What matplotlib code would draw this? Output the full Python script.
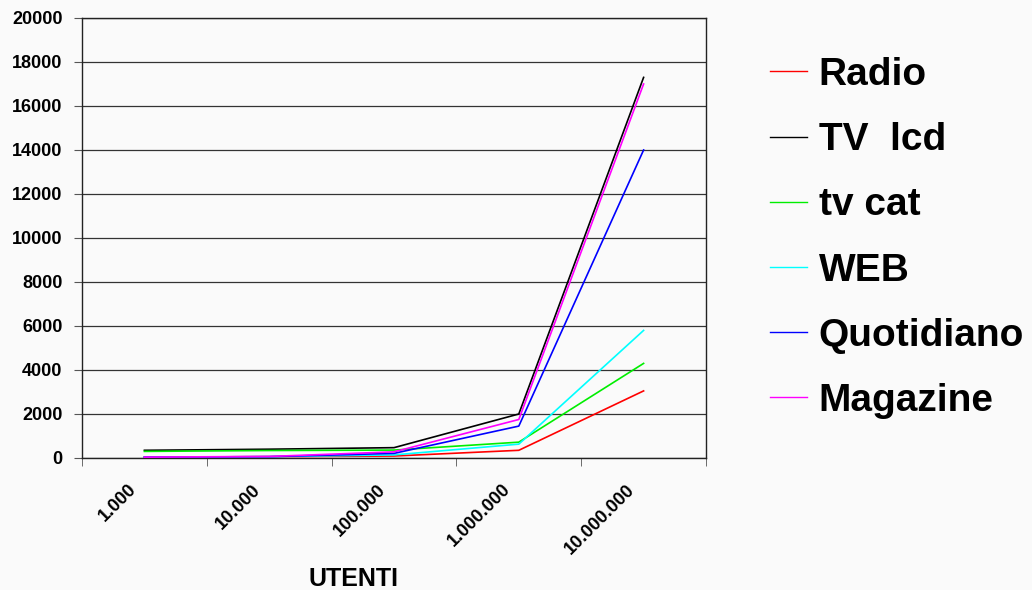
import matplotlib
matplotlib.use("Agg")
import matplotlib.pyplot as plt
from matplotlib.transforms import ScaledTranslation

plt.rcParams["font.family"] = ["Liberation Sans", "DejaVu Sans"]

categories = ["1.000", "10.000", "100.000", "1.000.000", "10.000.000"]
series_names = ["Radio", "TV  lcd", "tv cat", "WEB", "Quotidiano", "Magazine"]
radio = [40, 60, 90, 350, 3050]
tv_lcd = [350, 400, 470, 2000, 17300]
tv_cat = [300, 340, 360, 720, 4300]
web = [40, 60, 140, 630, 5800]
quotidiano = [40, 60, 210, 1450, 14000]
magazine = [40, 70, 280, 1750, 17000]
y_ticks = list(range(0, 20001, 2000))

colors = ["#ff0000", "#000000", "#00ee00", "#00ffff", "#0000ff", "#ff00ff"]
bg = "#fafafa"

fig = plt.figure(figsize=(10.32, 5.90), dpi=100, facecolor=bg)
ax = fig.add_axes([82 / 1032, 132 / 590, 624 / 1032, 440 / 590], facecolor=bg)

xs = list(range(len(categories)))
for name, vals, c in zip(series_names,
                         [radio, tv_lcd, tv_cat, web, quotidiano, magazine],
                         colors):
    ax.plot(xs, vals, color=c, lw=1.2, label=name, zorder=3)

ax.set_xlim(-0.5, len(categories) - 0.5)
ax.set_ylim(0, 20000)
ax.set_yticks(y_ticks)
ax.set_yticklabels([str(v) for v in y_ticks], fontsize=13, fontweight="bold")
ax.yaxis.grid(True, color="#333333", lw=0.9)
ax.set_axisbelow(True)

# category boundaries carry the tick marks, centres carry the labels
ax.set_xticks([i - 0.5 for i in range(len(categories) + 1)], minor=True)
ax.set_xticks(xs)
ax.set_xticklabels(categories, fontsize=13, fontweight="bold", rotation=45,
                   ha="right", va="top", rotation_mode="anchor")
ax.tick_params(axis="x", which="major", length=0, pad=0)
ax.tick_params(axis="x", which="minor", length=6, color="#555555", direction="out")
ax.tick_params(axis="y", length=6, color="#555555", direction="out", pad=8)
offset = ScaledTranslation(-17 / 100, -23 / 100, fig.dpi_scale_trans)
for lab in ax.get_xticklabels():
    lab.set_transform(lab.get_transform() + offset)

for s in ax.spines.values():
    s.set_color("#222222")
    s.set_linewidth(1.0)

fig.text(353 / 1032, 1 - 579 / 590, "UTENTI", ha="center", va="center",
         fontsize=18, fontweight="bold")

leg = fig.legend(loc="center left", bbox_to_anchor=(770 / 1032, 1 - 238 / 590),
                 frameon=False, prop={"weight": "bold", "size": 28},
                 handlelength=0.95, handletextpad=0.3, labelspacing=0.75,
                 borderpad=0, borderaxespad=0)
for h in leg.get_lines():
    h.set_linewidth(1.0)

fig.savefig("out.png", dpi=100, facecolor=bg)
